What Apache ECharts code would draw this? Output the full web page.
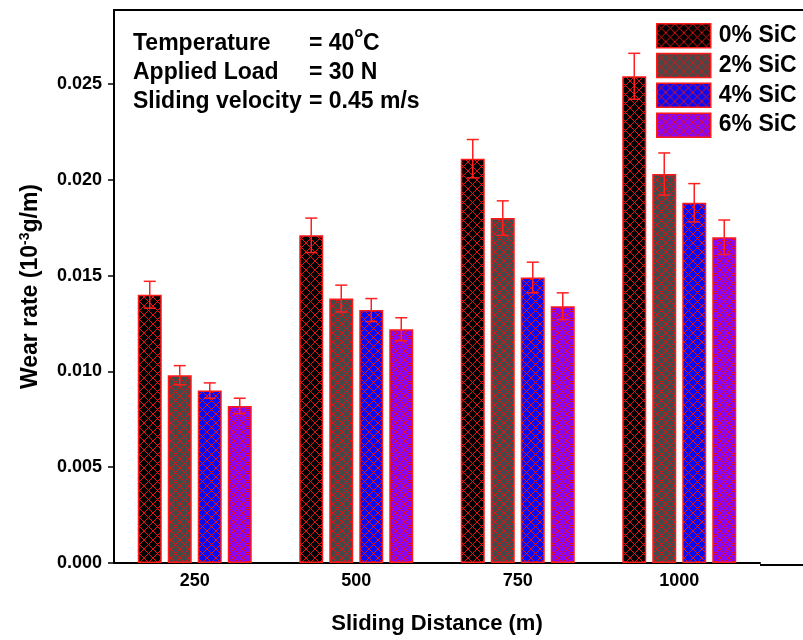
<!DOCTYPE html>
<html>
<head>
<meta charset="UTF-8">
<title>Wear rate</title>
<script src="https://cdn.jsdelivr.net/npm/echarts@6/dist/echarts.min.js"></script>
<style>
  html, body { margin: 0; padding: 0; background: #fff; }
  #main { width: 803px; height: 640px; }
</style>
</head>
<body>
<div id="main"></div>
<script type="text/javascript">
  // data
  var distances = ['250', '500', '750', '1000'];
  var seriesNames = ['0% SiC', '2% SiC', '4% SiC', '6% SiC'];
  var wear0 = [0.0140, 0.0171, 0.0211, 0.0254];
  var wear2 = [0.0098, 0.0138, 0.0180, 0.0203];
  var wear4 = [0.0090, 0.0132, 0.0149, 0.0188];
  var wear6 = [0.0082, 0.0122, 0.0134, 0.0170];
  var err0 = [0.0007, 0.0009, 0.0010, 0.0012];
  var err2 = [0.0005, 0.0007, 0.0009, 0.0011];
  var err4 = [0.0004, 0.0006, 0.0008, 0.0010];
  var err6 = [0.0004, 0.0006, 0.0007, 0.0009];
  var yTicks = [0, 0.005, 0.010, 0.015, 0.020, 0.025];

  var fillColors = ['#000000', '#484848', '#0a0af5', '#8a06f5'];
  var font = 'Arial, "Liberation Sans", sans-serif';

  // red cross-hatch over a fill colour
  function hatch(bg) {
    var c = document.createElement('canvas');
    c.width = 9; c.height = 9;
    var ctx = c.getContext('2d');
    ctx.fillStyle = bg;
    ctx.fillRect(0, 0, 9, 9);
    ctx.strokeStyle = '#e81010';
    ctx.lineWidth = 1;
    ctx.beginPath();
    ctx.moveTo(0, 0); ctx.lineTo(9, 9);
    ctx.moveTo(9, 0); ctx.lineTo(0, 9);
    ctx.stroke();
    return { image: c, repeat: 'repeat' };
  }

  var values = [wear0, wear2, wear4, wear6];
  var errors = [err0, err2, err4, err6];
  var offsets = [-45, -15, 15, 45];

  var series = [];
  seriesNames.forEach(function (name, i) {
    series.push({
      name: name,
      type: 'bar',
      barWidth: 24,
      barGap: '25%',
      data: values[i],
      itemStyle: { color: hatch(fillColors[i]), borderColor: '#ff1a1a', borderWidth: 1.5 }
    });
  });
  // error bars
  seriesNames.forEach(function (name, i) {
    var d = values[i].map(function (v, k) { return [k, v, errors[i][k]]; });
    series.push({
      type: 'custom',
      z: 5,
      silent: true,
      data: d,
      renderItem: function (params, api) {
        var x = api.coord([api.value(0), 0])[0] + offsets[i];
        var v = api.value(1), e = api.value(2);
        var yt = api.coord([api.value(0), v + e])[1];
        var yb = api.coord([api.value(0), v - e])[1];
        var st = { stroke: '#ff2020', lineWidth: 1.5 };
        return {
          type: 'group',
          children: [
            { type: 'line', shape: { x1: x, y1: yt, x2: x, y2: yb }, style: st },
            { type: 'line', shape: { x1: x - 6, y1: yt, x2: x + 6, y2: yt }, style: st },
            { type: 'line', shape: { x1: x - 6, y1: yb, x2: x + 6, y2: yb }, style: st }
          ]
        };
      }
    });
  });

  var chart = echarts.init(document.getElementById('main'));
  chart.setOption({
    animation: false,
    backgroundColor: '#fff',
    grid: { left: 114, right: 43, top: 10, bottom: 77 },
    legend: {
      data: seriesNames,
      orient: 'vertical',
      icon: 'rect',
      left: 656,
      top: 23,
      padding: 0,
      itemWidth: 54,
      itemHeight: 24,
      itemGap: 4.3,
      itemStyle: { borderColor: '#ff1a1a', borderWidth: 1.5 },
      textStyle: { fontFamily: font, fontWeight: 'bold', fontSize: 23, lineHeight: 24, color: '#000', padding: [0, 0, 0, 3] }
    },
    xAxis: {
      type: 'category',
      data: distances,
      name: 'Sliding Distance (m)',
      nameLocation: 'middle',
      nameGap: 50,
      nameTextStyle: { fontFamily: font, fontWeight: 'bold', fontSize: 22, color: '#000' },
      axisLine: { lineStyle: { color: '#000', width: 2 } },
      axisTick: { show: false },
      axisLabel: { fontFamily: font, fontWeight: 'bold', fontSize: 18, color: '#000', margin: 9 }
    },
    yAxis: {
      type: 'value',
      min: 0,
      max: 0.02886,
      name: 'Wear rate (10{sup|-3}g/m)',
      nameLocation: 'middle',
      nameGap: 70,
      nameTextStyle: {
        fontFamily: font, fontWeight: 'bold', fontSize: 23, color: '#000',
        rich: { sup: { fontFamily: font, fontWeight: 'bold', fontSize: 14, color: '#000', padding: [0, 0, 12, 0] } }
      },
      splitLine: { show: false },
      axisLine: { show: true, lineStyle: { color: '#000', width: 2 } },
      axisTick: { show: true, length: 6, lineStyle: { color: '#000', width: 1.5 }, customValues: yTicks },
      axisLabel: {
        fontFamily: font, fontWeight: 'bold', fontSize: 18, color: '#000', margin: 12,
        customValues: yTicks,
        formatter: function (v) { return v.toFixed(3); }
      }
    },
    graphic: [
      { type: 'line', shape: { x1: 113, y1: 10, x2: 803, y2: 10 }, style: { stroke: '#000', lineWidth: 2 } },
      { type: 'line', shape: { x1: 760, y1: 565, x2: 803, y2: 565 }, style: { stroke: '#000', lineWidth: 2 } },
      { type: 'text', left: 133, top: 32, style: { text: 'Temperature', font: 'bold 23px ' + font, fill: '#000' } },
      { type: 'text', left: 133, top: 61, style: { text: 'Applied Load', font: 'bold 23px ' + font, fill: '#000' } },
      { type: 'text', left: 133, top: 90, style: { text: 'Sliding velocity', font: 'bold 23px ' + font, fill: '#000' } },
      { type: 'text', left: 309, top: 26, style: {
          text: '{a|= 40}{s|o}{a|C}',
          rich: {
            a: { font: 'bold 23px ' + font, fill: '#000', lineHeight: 29, verticalAlign: 'bottom' },
            s: { font: 'bold 14px ' + font, fill: '#000', lineHeight: 29, verticalAlign: 'top' }
          }
      } },
      { type: 'text', left: 309, top: 61, style: { text: '= 30 N', font: 'bold 23px ' + font, fill: '#000' } },
      { type: 'text', left: 309, top: 90, style: { text: '= 0.45 m/s', font: 'bold 23px ' + font, fill: '#000' } }
    ],
    series: series
  });
</script>
</body>
</html>
